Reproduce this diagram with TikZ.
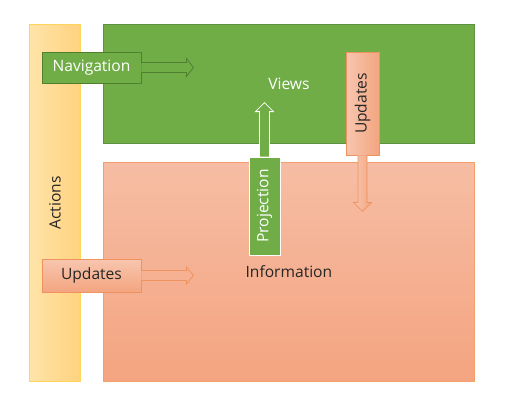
\documentclass[tikz,border=0pt]{standalone}
\usepackage{fontspec}
\setmainfont{Open Sans}
\usepackage{xcolor}
\usepackage{tikz}
\usetikzlibrary{positioning, calc}

\definecolor{viewgreen}{HTML}{70AD47}
\definecolor{viewedge}{HTML}{5F9240}
\definecolor{darkgreen}{HTML}{4F7F32}
\definecolor{infotop}{HTML}{F6BDA4}
\definecolor{infobottom}{HTML}{F4A480}
\definecolor{infoedge}{HTML}{F3A06E}
\definecolor{actlight}{HTML}{FFE4A9}
\definecolor{actdark}{HTML}{FFD27E}
\definecolor{actedge}{HTML}{FFD45E}
\definecolor{updlight}{HTML}{F8C6AF}
\definecolor{upddark}{HTML}{F3A580}
\definecolor{updedge}{HTML}{EE9260}
\definecolor{inktext}{HTML}{262626}

\tikzset{
  every node/.style={font=\fontsize{15.6}{18}\selectfont},
  region/.style={draw, anchor=north west, inner sep=0pt, line width=0.8pt},
  tag/.style={draw, inner sep=0pt, line width=0.8pt},
  blockarrow/.style={line width=0.8pt, line join=miter}
}

\begin{document}
\begin{tikzpicture}[x=1pt, y=-1pt]
  \useasboundingbox (0,0) rectangle (510,400);

  % Actions
  \node[region, draw=actedge, left color=actlight, right color=actdark,
    minimum width=51, minimum height=357] (actions) at (29,24) {};
  \node[rotate=90, text=inktext] (actionslabel) at (actions.center) {Actions};

  % Views
  \node[region, draw=viewedge, fill=viewgreen, text=white,
    minimum width=371, minimum height=119] (views) at (103,24) {Views};

  % Information
  \node[region, draw=infoedge, top color=infotop, bottom color=infobottom, text=inktext,
    minimum width=371, minimum height=219] (info) at (103,162) {Information};

  % Navigation
  \node[tag, draw=darkgreen, fill=viewgreen, text=white,
    minimum width=99, minimum height=31] (nav) at (91.5,67.5) {Navigation};
  \coordinate[right=52pt of nav.east] (navtip);
  \draw[blockarrow, draw=darkgreen, fill=viewgreen]
    let \p1=(nav.east), \p2=(navtip) in
    (\x1,\y1+5pt) -- (\x2-7pt,\y1+5pt) -- (\x2-7pt,\y1+9pt) -- (\x2,\y1)
    -- (\x2-7pt,\y1-9pt) -- (\x2-7pt,\y1-5pt) -- (\x1,\y1-5pt);

  % Updates into information
  \node[tag, draw=updedge, top color=updlight, bottom color=upddark, text=inktext,
    minimum width=99, minimum height=33] (actupdates) at (91.5,275.5) {Updates};
  \coordinate[right=52pt of actupdates.east] (actupdatestip);
  \draw[blockarrow, draw=updedge, fill=infotop!50!infobottom]
    let \p1=(actupdates.east), \p2=(actupdatestip) in
    (\x1,\y1+5pt) -- (\x2-7pt,\y1+5pt) -- (\x2-7pt,\y1+8.5pt) -- (\x2,\y1)
    -- (\x2-7pt,\y1-8.5pt) -- (\x2-7pt,\y1-5pt) -- (\x1,\y1-5pt);

  % Projection
  \node[tag, draw=white, fill=viewgreen, minimum width=31, minimum height=98] (proj) at (264.5,206) {};
  \node[rotate=90, text=white] (projlabel) at (proj.center) {Projection};
  \coordinate[above=54pt of proj.north] (projtip);
  \draw[blockarrow, draw=white, fill=viewgreen]
    let \p1=(proj.north), \p2=(projtip) in
    (\x1-5pt,\y1) -- (\x1-5pt,\y2-9pt) -- (\x1-9pt,\y2-9pt) -- (\x1,\y2)
    -- (\x1+9pt,\y2-9pt) -- (\x1+5pt,\y2-9pt) -- (\x1+5pt,\y1);

  % Updates into views
  \node[tag, draw=updedge, left color=updlight, right color=upddark,
    minimum width=33, minimum height=103] (viewupdates) at (362.5,103.5) {};
  \node[rotate=90, text=inktext] (viewupdateslabel) at (viewupdates.center) {Updates};
  \coordinate[below=56pt of viewupdates.south] (viewupdatestip);
  \draw[blockarrow, draw=updedge, left color=updlight, right color=upddark]
    let \p1=(viewupdates.south), \p2=(viewupdatestip) in
    (\x1-4.5pt,\y1) -- (\x1-4.5pt,\y2+9pt) -- (\x1-9pt,\y2+9pt) -- (\x1,\y2)
    -- (\x1+9pt,\y2+9pt) -- (\x1+4.5pt,\y2+9pt) -- (\x1+4.5pt,\y1);
\end{tikzpicture}
\end{document}
